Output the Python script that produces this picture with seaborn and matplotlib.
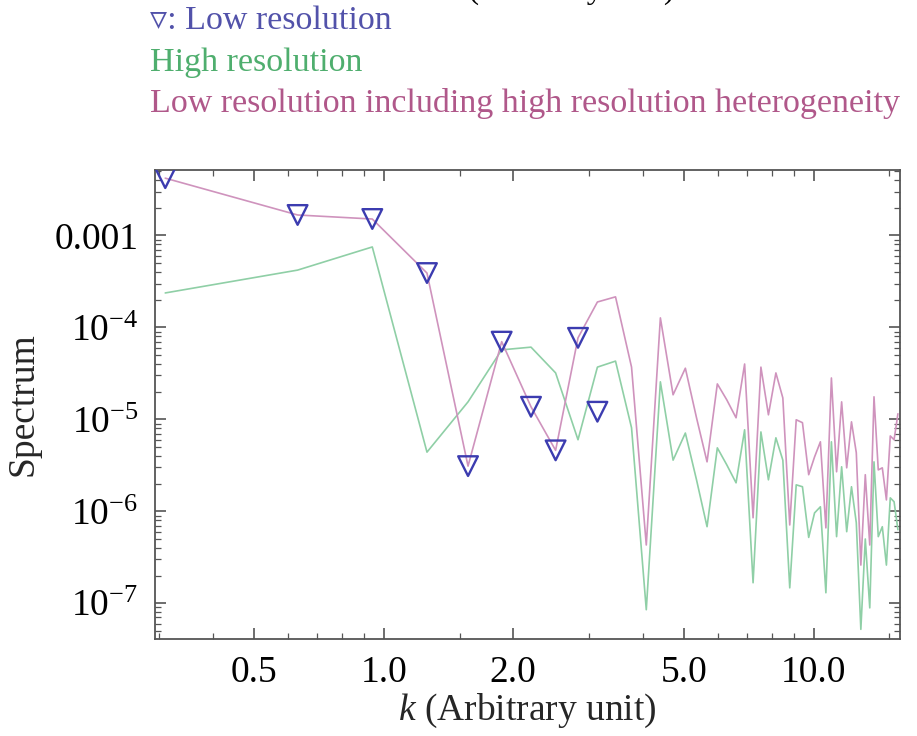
import numpy as np
import pandas as pd
import matplotlib
matplotlib.use("Agg")
import matplotlib.pyplot as plt
import matplotlib.ticker as mticker
import seaborn as sns

# wavenumbers
k_high = [0.31, 0.63, 0.94, 1.26, 1.57, 1.88, 2.20, 2.51, 2.83, 3.14,
          3.46, 3.77, 4.08, 4.40, 4.71, 5.03, 5.34, 5.65, 5.97, 6.28,
          6.60, 6.91, 7.23, 7.54, 7.85, 8.17, 8.48, 8.80, 9.11, 9.42,
          9.74, 10.05, 10.37, 10.68, 11.00, 11.31, 11.62, 11.94, 12.25, 12.57,
          12.88, 13.19, 13.51, 13.82, 14.14, 14.45, 14.77, 15.08, 15.39, 15.71]
k_low = [0.31, 0.63, 0.94, 1.26, 1.57, 1.88, 2.20, 2.51, 2.83, 3.14]

# spectra
spec_low = [4.2e-3, 1.67e-3, 1.51e-3, 3.9e-4, 3.1e-6, 7.0e-5, 1.37e-5, 4.6e-6, 7.7e-5, 1.21e-5]
spec_high = [2.37e-4, 4.2e-4, 7.5e-4, 4.4e-6, 1.55e-5, 5.7e-5, 6.1e-5, 3.2e-5, 6.0e-6, 3.7e-5,
             4.3e-5, 8.1e-6, 8.5e-8, 2.56e-5, 3.6e-6, 7.1e-6, 2.2e-6, 6.8e-7, 4.9e-6, 3.2e-6,
             2.04e-6, 7.7e-6, 1.67e-7, 7.3e-6, 2.2e-6, 6.3e-6, 3.6e-6, 1.47e-7, 1.94e-6, 1.85e-6,
             5.2e-7, 9.6e-7, 1.12e-6, 1.3e-7, 5.7e-6, 5.3e-7, 3.05e-6, 6.0e-7, 1.85e-6, 7.5e-7,
             5.2e-8, 5.0e-7, 8.9e-8, 3.45e-6, 5.3e-7, 6.8e-7, 2.6e-7, 1.4e-6, 1.27e-6, 6.3e-7]
spec_mixed = [4.2e-3, 1.67e-3, 1.51e-3, 3.9e-4, 3.1e-6, 7.0e-5, 1.37e-5, 4.6e-6, 7.7e-5, 1.89e-4,
              2.15e-4, 3.7e-5, 4.3e-7, 1.27e-4, 1.85e-5, 3.6e-5, 1.04e-5, 3.45e-6, 2.43e-5, 1.63e-5,
              1.04e-5, 4.0e-5, 8.5e-7, 3.7e-5, 1.12e-5, 3.2e-5, 1.71e-5, 7.1e-7, 9.9e-6, 9.2e-6,
              2.5e-6, 3.9e-6, 5.7e-6, 6.6e-7, 2.82e-5, 2.69e-6, 1.55e-5, 2.97e-6, 9.4e-6, 4.33e-6,
              2.6e-7, 2.5e-6, 4.3e-7, 1.76e-5, 2.82e-6, 2.97e-6, 1.33e-6, 6.6e-6, 6.0e-6, 1.15e-5]

x_ticks = [0.5, 1.0, 2.0, 5.0, 10.0]
x_tick_labels = ["0.5", "1.0", "2.0", "5.0", "10.0"]
y_ticks = [1e-7, 1e-6, 1e-5, 1e-4, 1e-3]
y_tick_labels = ["$10^{-7}$", "$10^{-6}$", "$10^{-5}$", "$10^{-4}$", "0.001"]

sns.set_style("ticks")
plt.rcParams['font.family'] = ['Liberation Serif', 'DejaVu Serif']
plt.rcParams['mathtext.fontset'] = 'custom'
plt.rcParams['mathtext.rm'] = 'Liberation Serif'
plt.rcParams['mathtext.it'] = 'Liberation Serif:italic'

blue = '#3c3cb0'
green = '#8fcfa6'
pink = '#cf93bd'

fig = plt.figure(figsize=(9.17, 7.36), dpi=100)
ax = fig.add_axes([0.169, 0.132, 0.812, 0.637])

df_high = pd.DataFrame({'k': k_high, 'S': spec_high})
df_mixed = pd.DataFrame({'k': k_high, 'S': spec_mixed})
df_low = pd.DataFrame({'k': k_low, 'S': spec_low})

sns.lineplot(data=df_high, x='k', y='S', ax=ax, color=green, lw=1.2, sort=False)
sns.lineplot(data=df_mixed, x='k', y='S', ax=ax, color=pink, lw=1.2, sort=False)
sns.scatterplot(data=df_low, x='k', y='S', ax=ax, marker='v', s=200,
                facecolor='none', edgecolor=blue, linewidth=1.7, zorder=5)

ax.set_xscale('log')
ax.set_yscale('log')
ax.set_xlim(0.2934, 15.85)
ax.set_ylim(4.1e-8, 5.15e-3)

ax.xaxis.set_major_locator(mticker.FixedLocator(x_ticks))
ax.xaxis.set_major_formatter(mticker.FixedFormatter(x_tick_labels))
ax.xaxis.set_minor_locator(mticker.FixedLocator([0.3, 0.4, 0.6, 0.7, 0.8, 0.9, 1.5, 3, 4, 6, 7, 8, 9, 15]))
ax.xaxis.set_minor_formatter(mticker.NullFormatter())
ax.yaxis.set_major_locator(mticker.FixedLocator(y_ticks))
ax.yaxis.set_major_formatter(mticker.FixedFormatter(y_tick_labels))
ax.yaxis.set_minor_locator(mticker.LogLocator(base=10, subs=np.arange(2, 10), numticks=20))
ax.yaxis.set_minor_formatter(mticker.NullFormatter())

for s in ax.spines.values():
    s.set_color('#555555')
    s.set_linewidth(1.3)
ax.tick_params(which='both', direction='in', top=True, right=True, color='#555555',
               labelsize=27, labelcolor='black')
ax.tick_params(which='major', length=8, width=1.2, pad=12)
ax.tick_params(which='minor', length=4, width=0.9)

ax.set_xlabel('$\\it{k}$ (Arbitrary unit)', fontsize=27, labelpad=1)
ax.set_ylabel('Spectrum', fontsize=27, labelpad=10)

# header text (partly cut at the top edge, as in the original)
fig.text(468 / 917, 1 + 2 / 736, '(Arbitrary unit)', fontsize=24, color='black', va='baseline')
fig.text(150 / 917, 1 - 29 / 736, '▿: Low resolution', fontsize=24.5, color='#5252aa', va='baseline')
fig.text(150 / 917, 1 - 71 / 736, 'High resolution', fontsize=24.5, color='#4fae6e', va='baseline')
fig.text(150 / 917, 1 - 112 / 736, 'Low resolution including high resolution heterogeneity',
         fontsize=24.5, color='#b0588a', va='baseline')

fig.savefig('out.png', dpi=100)
